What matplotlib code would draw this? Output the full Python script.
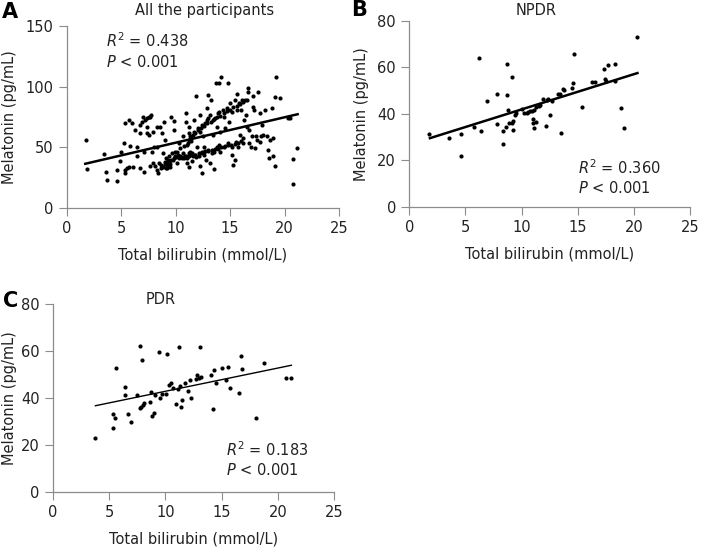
import matplotlib.pyplot as plt

# Panel A - all the participants
all_x = [1.77, 1.84, 3.4, 3.6, 3.7, 4.6, 4.6, 4.9, 4.96, 5.3, 5.2, 5.35, 5.5, 5.66, 5.66, 5.35, 5.8, 6.0,
         6.05, 6.27, 6.4, 6.4, 6.67, 6.67, 6.7, 6.9, 6.98, 7.04, 7.04, 7.2, 7.34, 7.4, 7.34, 7.5, 7.6, 7.65,
         7.5, 7.7, 7.8, 7.9, 7.9, 7.96, 8.1, 8.26, 8.26, 8.26, 8.4, 8.5, 8.57, 8.66, 8.75, 8.87, 8.94, 9.03,
         9.03, 9.1, 9.18, 9.18, 9.3, 9.4, 9.5, 9.55, 9.64, 9.7, 9.8, 9.85, 9.9, 9.97, 10.1, 10.1, 10.25,
         10.4, 10.4, 10.56, 10.65, 10.7, 10.77, 10.86, 10.95, 10.95, 11.0, 11.07, 11.17, 11.17, 11.23,
         11.26, 11.32, 11.38, 11.47, 11.47, 11.57, 11.63, 11.69, 11.78, 11.87, 11.93, 12.0, 12.09, 12.18,
         12.24, 12.3, 12.4, 12.4, 12.48, 12.55, 12.6, 12.7, 12.8, 12.85, 12.9, 13.0, 13.0, 13.1, 13.16,
         13.2, 13.3, 13.4, 13.46, 13.5, 13.6, 13.7, 13.77, 13.8, 13.9, 14.0, 14.07, 14.1, 14.2, 14.3, 14.4,
         14.44, 14.5, 14.7, 14.8, 14.84, 14.9, 15.0, 15.15, 15.2, 15.3, 15.4, 15.45, 15.5, 15.6, 15.67,
         15.76, 15.85, 15.9, 15.97, 16.07, 16.16, 16.2, 16.28, 16.37, 16.46, 16.5, 16.6, 16.68, 16.7,
         16.77, 16.9, 16.98, 17.07, 17.14, 17.2, 17.29, 17.38, 17.44, 17.6, 17.7, 17.75, 17.84, 17.9,
         18.05, 18.2, 18.36, 18.5, 18.6, 18.7, 18.8, 18.9, 18.97, 19.1, 19.1, 19.2, 19.6, 20.35, 20.5,
         20.75, 20.75, 21.17,
         8.6, 8.8, 9.0, 9.2, 9.4, 9.6, 9.8, 10.0, 10.3, 10.6, 10.9, 11.2, 11.5, 11.8, 12.1, 12.4, 12.7,
         13.0, 13.3, 13.6, 13.9, 14.2, 14.5, 14.8, 15.1, 15.4, 15.7, 16.0, 9.1, 9.5, 10.2, 10.8, 11.3,
         11.9, 12.6, 13.5, 14.0,
         11.2, 11.4, 11.6, 11.8, 12.0, 12.3, 12.6, 12.9, 13.2, 13.5, 13.8, 14.1, 14.4, 14.7, 15.0, 15.3,
         15.6, 15.9, 16.2, 16.5, 11.0, 11.1, 12.2, 13.0, 14.0, 15.2]
all_y = [55.7, 32, 44.4, 30, 23, 31.5, 22, 39, 46, 28.5, 54, 31.5, 33, 34, 72.7, 70, 51, 70,
         33.5, 64.4, 42.5, 50, 61.7, 68.5, 33, 70.5, 75.4, 46.6, 30, 72.7, 74, 67, 61.7, 60.3, 74.9, 35,
         75.4, 76.8, 46.6, 63, 37, 50, 35, 67, 50.7, 31.5, 28.8, 37, 67, 35.6, 62, 45, 71, 56,
         38, 41, 33, 35.6, 39.8, 42.5, 34, 75.4, 45, 39.8, 72, 64.4, 46.6, 42.5, 37, 46.6, 53.5,
         49.4, 42.5, 41, 59, 45, 51.4, 42.5, 78, 70.5, 41, 37, 34, 45, 61.7,
         67, 59, 55, 45, 38.4, 42.5, 63, 72.7, 43.9, 92, 50.7, 65.8, 42.5, 34.3,
         76.8, 45.2, 68.5, 29.3, 59, 46.6, 50.7, 70, 39.8, 82.3, 72.7, 93.2, 48, 37, 76.8,
         89, 45.2, 72.7, 60.3, 32, 74, 102.8, 50.7, 67, 78, 102.8, 63, 46.6, 107.8, 81, 75.4,
         50.7, 65.8, 82.3, 103.4, 53.5, 71.3, 86.4, 43.9, 50.7, 35.6, 39.8, 89, 54.8, 81, 94,
         50.7, 86.4, 60.3, 81, 89, 57.6, 53.5, 72.7, 89, 76.8, 67, 98.7, 96, 53.5,
         64.4, 50.7, 59, 83.6, 92.4, 81, 49.4, 59.5, 56.2, 96, 78, 54.8, 59, 68.5,
         60.3, 81, 59, 48, 41, 56.2, 82.3, 42.5, 57.6, 91.9, 34.3, 108.3, 90.5, 74, 74,
         40.3, 20, 49.4,
         33, 34, 36, 37, 38, 40, 41, 42, 41, 42, 43, 43, 44, 44, 45, 46, 47,
         47, 48, 49, 49, 50, 51, 52, 52, 53, 54, 55, 33, 36, 44, 41, 46,
         42, 44, 46, 52,
         56, 58, 60, 62, 64, 66, 68, 70, 71, 73, 75, 76, 78, 80, 81, 83,
         84, 86, 87, 89, 52, 54, 63, 74, 79, 79]
all_fit_x = [1.68, 21.2]
all_fit_y = [36.5, 77.3]

# Panel B - NPDR
npdr_x = [1.75, 3.53, 4.57, 4.57, 5.79, 6.2, 6.38, 6.89, 7.78, 7.84, 8.37, 8.37, 8.6, 8.67, 8.7, 8.79,
          8.9, 9.1, 9.17, 9.26, 9.26, 9.4, 9.5, 10.0, 10.2, 10.45, 10.6, 10.75, 10.9, 11.0, 11.05, 11.13,
          11.1, 11.25, 11.28, 11.5, 11.64, 11.88, 12.14, 12.23, 12.38, 12.53, 12.68, 13.27, 13.42, 13.5,
          13.66, 13.78, 14.46, 14.6, 14.7, 15.35, 16.24, 16.54, 17.28, 17.37, 17.5, 17.7, 18.3, 18.3,
          18.85, 19.1, 20.3]
npdr_y = [31.5, 29.8, 31.3, 21.8, 34.3, 64, 32.8, 45.5, 48.8, 35.5, 32.6, 26.9, 34.6, 48.2, 61.3, 41.8,
          36, 55.8, 36, 33.2, 37, 39.6, 40.4, 42, 40.6, 40.6, 41, 41.4, 41.5, 36, 37.8, 33.9,
          41.8, 36.4, 42.8, 43.5, 44, 46.5, 35, 46, 46.4, 39.6, 45.4, 48.4, 48.5, 31.8,
          50.7, 50.4, 51.2, 53.5, 65.8, 43.2, 53.7, 53.7, 59.5, 55.1, 54, 61, 61.4, 54.4,
          42.4, 34.1, 73.1]
npdr_fit_x = [1.84, 20.3]
npdr_fit_y = [29.6, 57.6]

# Panel C - PDR
pdr_x = [3.77, 5.34, 5.34, 5.49, 5.58, 6.38, 6.44, 6.67, 6.97, 7.47, 7.77, 7.77, 7.86, 7.95, 8.0, 8.1,
         8.6, 8.75, 8.84, 8.96, 9.04, 9.4, 9.5, 9.73, 10.08, 10.17, 10.3, 10.5, 10.68, 10.9, 11.12, 11.18,
         11.27, 11.36, 11.48, 11.7, 12.0, 12.2, 12.25, 12.7, 12.84, 12.96, 13.05, 13.2, 14.09, 14.23,
         14.32, 14.47, 15.04, 15.42, 15.57, 15.72, 16.55, 16.7, 16.8, 18.03, 18.77, 20.7, 21.14]
pdr_y = [22.8, 33, 27.3, 31.3, 52.8, 44.7, 41.3, 33, 29.8, 41.3, 62.2, 35.6, 36.3, 56.2, 37.2, 37.7,
         38.3, 42.6, 32.5, 33.5, 41.3, 59.8, 40.1, 41.7, 41.6, 58.8, 45.6, 46.3, 44.1, 37.3, 43.8, 61.6,
         45.3, 36.3, 39.1, 46.3, 43.1, 47.5, 39.9, 48.1, 49.8, 48.7, 61.9, 49.1, 49.8, 35.3,
         52, 46.5, 52.8, 47.7, 53.1, 44.1, 42, 57.9, 52.5, 31.5, 55.1, 48.7, 48.7]
pdr_fit_x = [3.77, 21.2]
pdr_fit_y = [36.7, 53.95]

plt.rcParams['font.family'] = 'DejaVu Sans'
fig = plt.figure(figsize=(7.08, 5.52), dpi=100)

def panel(rect, xs, ys, fx, fy, lw, ymax, ystep, title, tpos, letter, lpos, r2, rx, ry, py, ylpad=6):
    ax = fig.add_axes(rect)
    ax.scatter(xs, ys, s=9, color='black', zorder=3, linewidths=0)
    ax.plot(fx, fy, color='black', lw=lw)
    ax.set_xlim(0, 25)
    ax.set_ylim(0, ymax)
    ax.set_xticks(range(0, 26, 5))
    ax.set_yticks(range(0, ymax + 1, ystep))
    for s in ['top', 'right']:
        ax.spines[s].set_visible(False)
    for s in ['left', 'bottom']:
        ax.spines[s].set_color('#8c8c8c')
        ax.spines[s].set_linewidth(0.9)
    ax.tick_params(colors='#8c8c8c', labelcolor='#222222', labelsize=10.5, length=6, direction='out')
    ax.set_xlabel('Total bilirubin (mmol/L)', fontsize=10.5, color='#222222', labelpad=8)
    ax.set_ylabel('Melatonin (pg/mL)', fontsize=10.5, color='#222222', labelpad=ylpad)
    fig.text(tpos[0], tpos[1], title, ha='center', va='center', fontsize=10.5, color='#222222')
    ax.text(rx, ry, r'$R^2$ = ' + r2, fontsize=10.5, va='center', color='#222222')
    ax.text(rx, py, r'$P$ < 0.001', fontsize=10.5, va='center', color='#222222')
    fig.text(lpos[0], lpos[1], letter, fontsize=15, fontweight='bold', va='center', ha='left')
    return ax

panel([0.0946, 0.623, 0.3842, 0.330], all_x, all_y, all_fit_x, all_fit_y, 1.8, 150, 50,
      'All the participants', (0.2895, 0.981), 'A', (0.003, 0.978), '0.438', 3.6, 138, 120)
panel([0.578, 0.625, 0.397, 0.337], npdr_x, npdr_y, npdr_fit_x, npdr_fit_y, 1.8, 80, 20,
      'NPDR', (0.757, 0.981), 'B', (0.496, 0.982), '0.360', 15.0, 16.8, 8.2)
panel([0.0749, 0.109, 0.397, 0.340], pdr_x, pdr_y, pdr_fit_x, pdr_fit_y, 1.0, 80, 20,
      'PDR', (0.2274, 0.457), 'C', (0.004, 0.455), '0.183', 15.4, 17.9, 9.4, ylpad=3)

fig.savefig('out.png', dpi=100)
